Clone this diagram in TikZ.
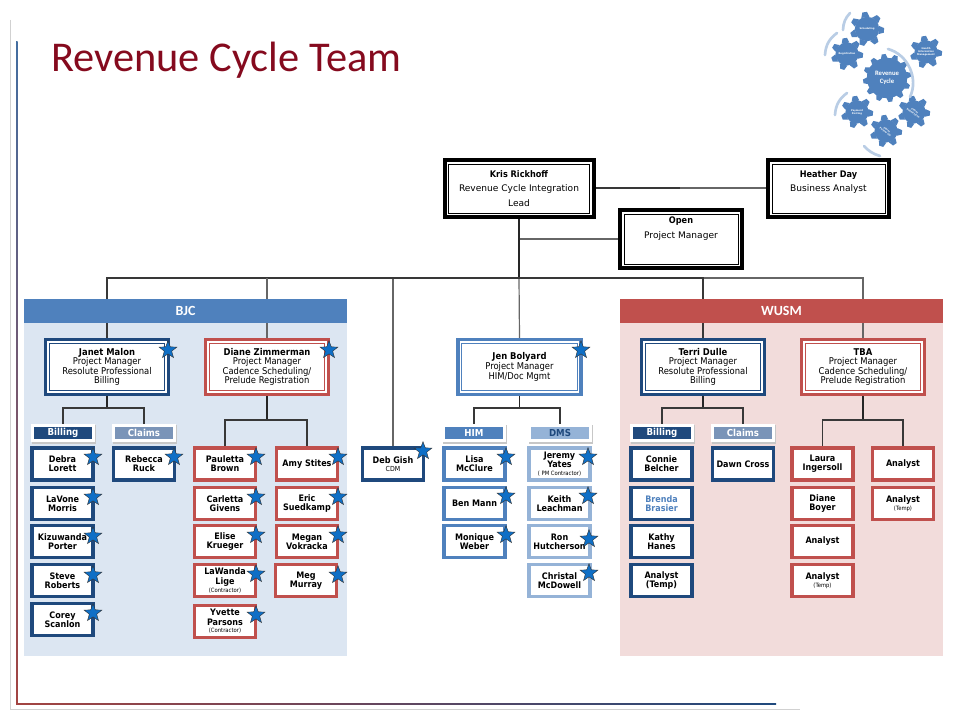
\documentclass[tikz,border=0pt]{standalone}
\usepackage{fontspec}
\setmainfont{DejaVu Sans}
\newfontfamily\condfont{DejaVu Sans Condensed}
\newfontfamily\calfont{Carlito}
\usetikzlibrary{shapes.geometric,calc}
\pgfdeclarelayer{back}
\pgfdeclarelayer{conn}
\pgfsetlayers{back,conn,main}
\definecolor{navy}{HTML}{1F497D}
\definecolor{midblue}{HTML}{4F81BD}
\definecolor{paleblue}{HTML}{95B3D7}
\definecolor{slate}{HTML}{7A94B8}
\definecolor{wred}{HTML}{C0504D}
\definecolor{bgblue}{HTML}{DCE6F2}
\definecolor{bgred}{HTML}{F2DCDB}
\definecolor{starblue}{HTML}{0F6FC6}
\definecolor{titlered}{HTML}{850A1E}
\definecolor{arcblue}{HTML}{B9CDE5}
\tikzset{
 x=0.75pt,y=-0.75pt,
 link/.style={draw=black!60,line width=0.9pt},
 dark/.style={draw=black!78,line width=0.9pt},
 heavy/.style={draw=black!85,line width=1.3pt},
 person/.style={draw=#1,fill=white,line width=2.6pt,minimum width=46pt,minimum height=24pt,inner sep=0pt,align=center,font=\fontsize{6.7}{6.9}\selectfont\condfont\bfseries},
 person/.default=navy,
 lead/.style={draw=#1,fill=white,line width=2.7pt,minimum width=92pt,minimum height=41pt,inner sep=0pt,align=center,font=\fontsize{7}{7.2}\selectfont\condfont,
   path picture={\draw[#1,line width=0.6pt] ($(path picture bounding box.north west)+(2.7pt,-2.7pt)$) rectangle ($(path picture bounding box.south east)+(-2.7pt,2.7pt)$);}},
 topbox/.style={draw=black,fill=white,line width=3pt,minimum height=42.75pt,inner sep=0pt,align=center,font=\fontsize{6.8}{11.5}\selectfont,
   path picture={\draw[black,line width=0.5pt] ($(path picture bounding box.north west)+(3pt,-3pt)$) rectangle ($(path picture bounding box.south east)+(-3pt,3pt)$);}},
 tag/.style={fill=#1,draw=white,line width=2.2pt,text=white,minimum width=45.75pt,minimum height=11.6pt,inner sep=0pt,font=\fontsize{7.2}{7.4}\selectfont\condfont\bfseries,
   preaction={draw=black!22,line width=2.2pt,transform canvas={shift={(1pt,-1pt)}}}},
 band/.style={fill=#1,text=white,minimum height=18pt,minimum width=242.25pt,inner sep=0pt,font=\fontsize{10.5}{11}\selectfont\calfont\bfseries},
 starmark/.style={star,star points=5,star point ratio=2.4,fill=starblue,draw=black!80,line width=0.3pt,minimum size=14pt,inner sep=0pt},
 arcline/.style={draw=arcblue,line width=2pt,line cap=round},
 gearlabel/.style={text=white,align=center,inner sep=0pt,font=\fontsize{1.8}{2.1}\selectfont\bfseries}
}
\newcommand{\smalltxt}[1]{{\fontsize{4.4}{5}\selectfont\mdseries #1}}
% x y radius teeth body-factor
\newcommand{\gearat}[5]{%
  \fill[midblue] (#1,#2) circle[radius=#3*#5];
  \pgfmathsetmacro{\gstep}{360/#4}
  \foreach \k in {1,...,#4}{
    \begin{scope}[shift={(#1,#2)},rotate=\k*\gstep+8]
      \fill[midblue] (-#3*1.7/#4,-#3*#5+0.5) -- (-#3*0.95/#4,-#3) -- (#3*0.95/#4,-#3) -- (#3*1.7/#4,-#3*#5+0.5) -- cycle;
    \end{scope}
  }}
\begin{document}
\begin{tikzpicture}
\useasboundingbox (0,0) rectangle (960,720);
% panels and slide frame
\begin{pgfonlayer}{back}
\fill[white] (0,0) rectangle (960,720);
\draw[black!18,line width=1pt] (10.5,20) -- (10.5,709.5) -- (800,709.5);
\shade[top color=midblue!85!black,bottom color=wred!85!black] (16,42) rectangle (17.5,704);
\shade[left color=wred!85!black,right color=navy] (16,703) rectangle (776,704.5);
\fill[bgblue] (24,300) rectangle (347,656);
\fill[bgred] (620,300) rectangle (943,656);
\end{pgfonlayer}
% title
\node[anchor=base west,text=titlered,inner sep=0pt,font=\fontsize{31.8}{33}\selectfont\calfont] (title) at (51,72) {Revenue Cycle Team};
\node[band=midblue] (bjc) at (185.5,311) {BJC};
\node[band=wred] (wusm) at (781.5,311) {WUSM};
% top boxes
\node[topbox,minimum width=111.75pt] (kris) at (519,188.5) {\textbf{\condfont Kris Rickhoff}\\[-0.5pt]Revenue Cycle Integration\\[-0.5pt]Lead};
\node[topbox,minimum width=90.75pt] (heather) at (828.5,188.5) {\textbf{\condfont Heather Day}\\[-0.5pt]Business Analyst\\[-0.5pt]\phantom{x}};
\node[topbox,minimum width=91.5pt,minimum height=43.5pt] (open) at (681,239) {\textbf{\condfont Open}\\[-0.5pt]Project Manager\\[6pt]\phantom{x}};
% leads
\node[lead=navy] (janet) at (107,367) {\textbf{Janet Malon}\\Project Manager\\Resolute Professional\\Billing};
\node[lead=wred] (diane) at (267,367) {\textbf{Diane Zimmerman}\\Project Manager\\Cadence Scheduling/\\Prelude Registration};
\node[lead=midblue] (jen) at (519.5,367) {\textbf{Jen Bolyard}\\Project Manager\\HIM/Doc Mgmt};
\node[lead=navy] (terri) at (703,367) {\textbf{Terri Dulle}\\Project Manager\\Resolute Professional\\Billing};
\node[lead=wred] (tba) at (863,367) {\textbf{TBA}\\Project Manager\\Cadence Scheduling/\\Prelude Registration};
% tags
\node[tag=navy] (tagbill1) at (63,433) {Billing};
\node[tag=slate] (tagclaim1) at (144,433) {Claims};
\node[tag=midblue] (taghim) at (474,433) {HIM};
\node[tag=paleblue,text=navy] (tagdms) at (560,433) {DMS};
\node[tag=navy] (tagbill2) at (662,433) {Billing};
\node[tag=slate] (tagclaim2) at (743,433) {Claims};
% people BJC
\node[person=navy] (debra) at (62.5,464) {Debra\\Lorett};
\node[person=navy] (lavone) at (62.5,503.5) {LaVone\\Morris};
\node[person=navy] (kiz) at (62.5,541.5) {Kizuwanda\\Porter};
\node[person=navy] (steve) at (62.5,580.5) {Steve\\Roberts};
\node[person=navy] (corey) at (62.5,619.5) {Corey\\Scanlon};
\node[person=navy] (rebecca) at (144,464) {Rebecca\\Ruck};
\node[person=wred] (pauletta) at (225,464) {Pauletta\\Brown};
\node[person=wred] (carletta) at (225,503.5) {Carletta\\Givens};
\node[person=wred] (elise) at (225,541.5) {Elise\\Krueger};
\node[person=wred] (lawanda) at (225,580.5) {LaWanda\\Lige\\[-1pt]\smalltxt{(Contractor)}};
\node[person=wred] (yvette) at (225,621.5) {Yvette\\Parsons\\[-1pt]\smalltxt{(Contractor)}};
\node[person=wred] (amy) at (307,464) {Amy Stites};
\node[person=wred] (eric) at (307,503.5) {Eric\\Suedkamp};
\node[person=wred] (megan) at (307,541.5) {Megan\\Vokracka};
\node[person=wred] (meg) at (306,580.5) {Meg\\Murray};
% centre
\node[person=navy] (deb) at (393,464) {Deb Gish\\[-1pt]{\fontsize{5.2}{6}\selectfont\mdseries CDM}};
\node[person=midblue] (lisa) at (474.5,464) {Lisa\\McClure};
\node[person=midblue] (ben) at (474.5,503.5) {Ben Mann};
\node[person=midblue] (monique) at (474.5,541.5) {Monique\\Weber};
\node[person=paleblue] (jeremy) at (559.5,464) {Jeremy\\Yates\\[-1pt]\smalltxt{( PM Contractor)}};
\node[person=paleblue] (keith) at (559.5,503.5) {Keith\\Leachman};
\node[person=paleblue] (ron) at (559.5,541.5) {Ron\\Hutcherson};
\node[person=paleblue] (christal) at (559.5,580.5) {Christal\\McDowell};
% WUSM
\node[person=navy] (connie) at (661.5,464) {Connie\\Belcher};
\node[person=navy,text=midblue] (brenda) at (661.5,503.5) {Brenda\\Brasier};
\node[person=navy] (kathy) at (661.5,541.5) {Kathy\\Hanes};
\node[person=navy] (an1) at (661.5,580.5) {Analyst\\(Temp)};
\node[person=navy] (dawn) at (743,464) {Dawn Cross};
\node[person=wred] (laura) at (822.5,464) {Laura\\Ingersoll};
\node[person=wred] (dianeb) at (822.5,503.5) {Diane\\Boyer};
\node[person=wred] (an2) at (822.5,541.5) {Analyst};
\node[person=wred] (an3) at (822.5,580.5) {Analyst\\[-1pt]\smalltxt{(Temp)}};
\node[person=wred] (an4) at (903,464) {Analyst};
\node[person=wred] (an5) at (903,503.5) {Analyst\\[-1pt]\smalltxt{(Temp)}};
% connectors
\coordinate (bus) at (519,278);
\coordinate (busr) at (703,278);
\coordinate (hmid) at (680,188);
\coordinate (openj) at (519,239);
\coordinate (jj) at (107,408);
\coordinate (dj) at (267,420);
\coordinate (bj) at (519.5,408);
\coordinate (tj) at (703,408);
\coordinate (aj) at (863,420);
\begin{pgfonlayer}{conn}
\draw[link] (bus) -- (jen.north);
\draw[link] (bus) -| (deb.north);
\draw[link] (openj) -- (open.west);
\draw[link] (busr) -| (tba.north);
\draw[link] (kris.east |- hmid) -- (hmid) -- (heather.west |- hmid);
\draw[dark] (kris.east |- hmid) -- (hmid);
\draw[heavy] (kris.south) -- (bus);
\draw[dark] (janet.north) |- (bus) -- (busr) -- (terri.north);
\draw[link] (diane.north) -- (diane.north |- bus);
\draw[heavy] (janet.south) -- (jj);
\draw[dark] (tagbill1.north) |- (jj) -| (tagclaim1.north);
\draw[heavy] (diane.south) -- (dj);
\draw[dark] (pauletta.north) |- (dj) -| (amy.north);
\draw[heavy] (jen.south) -- (bj);
\draw[dark] (taghim.north) |- (bj) -| (tagdms.north);
\draw[heavy] (terri.south) -- (tj);
\draw[dark] (tagbill2.north) |- (tj) -| (tagclaim2.north);
\draw[heavy] (tba.south) -- (aj);
\draw[dark] (laura.north) |- (aj) -| (an4.north);
\end{pgfonlayer}
% stars
\foreach \px/\py/\n in {168/350/s1,329/350/s2,581/350/s3,423/451/s4,
 93/457/s5,93/497/s6,93/536/s7,93/575/s8,93/613/s9,174/457/s10,
 256/457/s11,256/497/s12,256/535/s13,256/574/s14,256/615/s15,
 338/457/s16,338/497/s17,338/535/s18,338/575/s19,
 506/457/s20,506/496/s21,506/535/s22,588/457/s23,588/496/s24,589/539/s25,589/573/s26}
 \node[starmark] (\n) at (\px,\py) {};
% gears
\gearat{887}{78}{24}{12}{0.84}
\gearat{867}{29}{17}{7}{0.72}
\gearat{847}{54}{16}{7}{0.72}
\gearat{926}{52}{16}{7}{0.72}
\gearat{857}{112}{16}{7}{0.72}
\gearat{914}{112}{16}{7}{0.72}
\gearat{886}{131}{16}{7}{0.72}
\node[text=white,align=center,inner sep=0pt,font=\fontsize{5}{5.6}\selectfont\bfseries\calfont] (gc) at (887,78) {Revenue\\Cycle};
\node[gearlabel] (g1) at (867,29) {Scheduling};
\node[gearlabel] (g2) at (847,54) {Registration};
\node[gearlabel] (g3) at (926,52) {Health\\Information\\Management};
\node[gearlabel] (g4) at (857,112) {Payment\\Posting};
\node[gearlabel,rotate=-35] (g5) at (914,112) {Claim\\Submission};
\node[gearlabel,rotate=-35] (g6) at (886,131) {Claim\\Follow Up};
\draw[arcline] (850,13) to[bend right=20] (843,30);
\draw[arcline] (837,33) to[bend right=25] (825,55);
\draw[arcline] (888,49) to[bend left=50] (910,97);
\draw[arcline] (847,93) to[bend right=25] (835,115);
\draw[arcline] (864,146) to[bend right=15] (880,156);
\end{tikzpicture}
\end{document}
